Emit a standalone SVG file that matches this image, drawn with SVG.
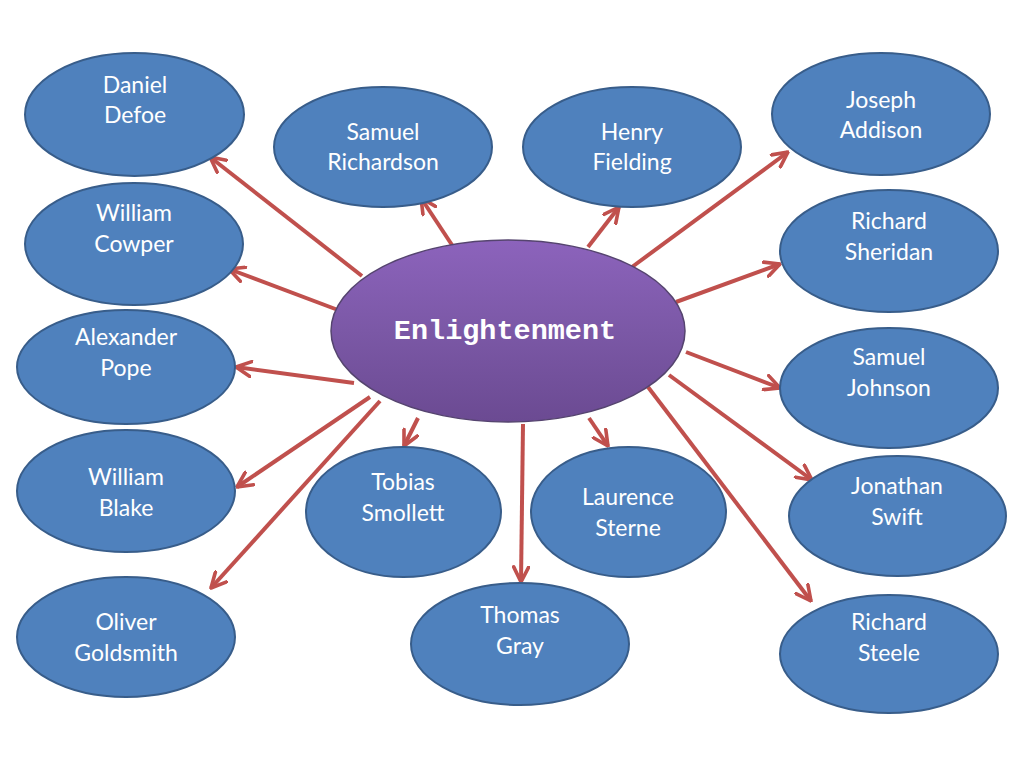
<svg xmlns="http://www.w3.org/2000/svg" width="1024" height="767" viewBox="0 0 1024 767">
<style>
.n ellipse{fill:#4F81BD;stroke:#385D8A;stroke-width:2}
.n text{fill:#fff;font-family:Lato,"Open Sans",sans-serif;font-size:23px;text-anchor:middle}
.c line{stroke:#C0504D;stroke-width:4;marker-end:url(#ah)}
</style>
<defs>
<marker id="ah" viewBox="0 0 12 12" refX="11" refY="6" markerWidth="18" markerHeight="18" markerUnits="userSpaceOnUse" orient="auto">
<path d="M1,1 L11,6 L1,11" fill="none" stroke="#C0504D" stroke-width="2.4" stroke-linecap="round" stroke-linejoin="round"/>
</marker>
<linearGradient id="pg" x1="0" y1="0" x2="0" y2="1">
<stop offset="0" stop-color="#8C63BC"/>
<stop offset="0.5" stop-color="#7B58A6"/>
<stop offset="1" stop-color="#6B4A92"/>
</linearGradient>
</defs>
<rect width="1024" height="767" fill="#fff"/>
<g class="c">
<line x1="362" y1="276" x2="210" y2="157"/>
<line x1="338" y1="310" x2="229" y2="269"/>
<line x1="354" y1="383" x2="236" y2="367"/>
<line x1="370" y1="397" x2="237" y2="487"/>
<line x1="380" y1="401" x2="211" y2="588"/>
<line x1="418" y1="418" x2="404" y2="446"/>
<line x1="523" y1="424" x2="521" y2="582"/>
<line x1="589" y1="418" x2="608" y2="446"/>
<line x1="648" y1="387" x2="811" y2="601"/>
<line x1="669" y1="375" x2="812" y2="480"/>
<line x1="686" y1="352" x2="780" y2="388"/>
<line x1="676" y1="302" x2="780" y2="264"/>
<line x1="632" y1="267" x2="788" y2="152"/>
<line x1="588" y1="247" x2="619" y2="207"/>
<line x1="452" y1="245" x2="421" y2="198"/>
</g>
<g id="center">
<ellipse cx="508" cy="331" rx="177" ry="91" fill="url(#pg)" stroke="#55446F" stroke-width="1.5"/>
<text x="505" y="339" fill="#fff" font-family="'Liberation Mono','Courier New',monospace" font-weight="bold" font-size="28.5" text-anchor="middle">Enlightenment</text>
</g>
<g id="defoe" class="n"><ellipse cx="134.5" cy="114.5" rx="109.5" ry="61.5"/><text x="135" y="93">Daniel</text><text x="135" y="123">Defoe</text></g>
<g id="richardson" class="n"><ellipse cx="383" cy="147" rx="109" ry="60"/><text x="383" y="140">Samuel</text><text x="383" y="170">Richardson</text></g>
<g id="fielding" class="n"><ellipse cx="632" cy="147" rx="109" ry="60"/><text x="632" y="140">Henry</text><text x="632" y="170">Fielding</text></g>
<g id="addison" class="n"><ellipse cx="881" cy="114" rx="109" ry="61"/><text x="881" y="108">Joseph</text><text x="881" y="138">Addison</text></g>
<g id="cowper" class="n"><ellipse cx="134" cy="244" rx="109" ry="61"/><text x="134" y="221">William</text><text x="134" y="252">Cowper</text></g>
<g id="sheridan" class="n"><ellipse cx="889" cy="251" rx="109" ry="61"/><text x="889" y="229">Richard</text><text x="889" y="260">Sheridan</text></g>
<g id="pope" class="n"><ellipse cx="126" cy="367" rx="109" ry="57"/><text x="126" y="345">Alexander</text><text x="126" y="376">Pope</text></g>
<g id="johnson" class="n"><ellipse cx="889" cy="388" rx="109" ry="60"/><text x="889" y="365">Samuel</text><text x="889" y="396">Johnson</text></g>
<g id="blake" class="n"><ellipse cx="126" cy="491" rx="109" ry="61"/><text x="126" y="485">William</text><text x="126" y="516">Blake</text></g>
<g id="smollett" class="n"><ellipse cx="403.5" cy="512" rx="97.5" ry="65"/><text x="403" y="490">Tobias</text><text x="403" y="521">Smollett</text></g>
<g id="sterne" class="n"><ellipse cx="628.5" cy="512" rx="97.5" ry="65"/><text x="628" y="505">Laurence</text><text x="628" y="536">Sterne</text></g>
<g id="swift" class="n"><ellipse cx="897.5" cy="516" rx="108.5" ry="60"/><text x="897" y="494">Jonathan</text><text x="897" y="525">Swift</text></g>
<g id="goldsmith" class="n"><ellipse cx="126" cy="637" rx="109" ry="60"/><text x="126" y="630">Oliver</text><text x="126" y="661">Goldsmith</text></g>
<g id="gray" class="n"><ellipse cx="520" cy="644" rx="109" ry="61"/><text x="520" y="623">Thomas</text><text x="520" y="654">Gray</text></g>
<g id="steele" class="n"><ellipse cx="889" cy="654" rx="109" ry="59"/><text x="889" y="630">Richard</text><text x="889" y="661">Steele</text></g>
</svg>
